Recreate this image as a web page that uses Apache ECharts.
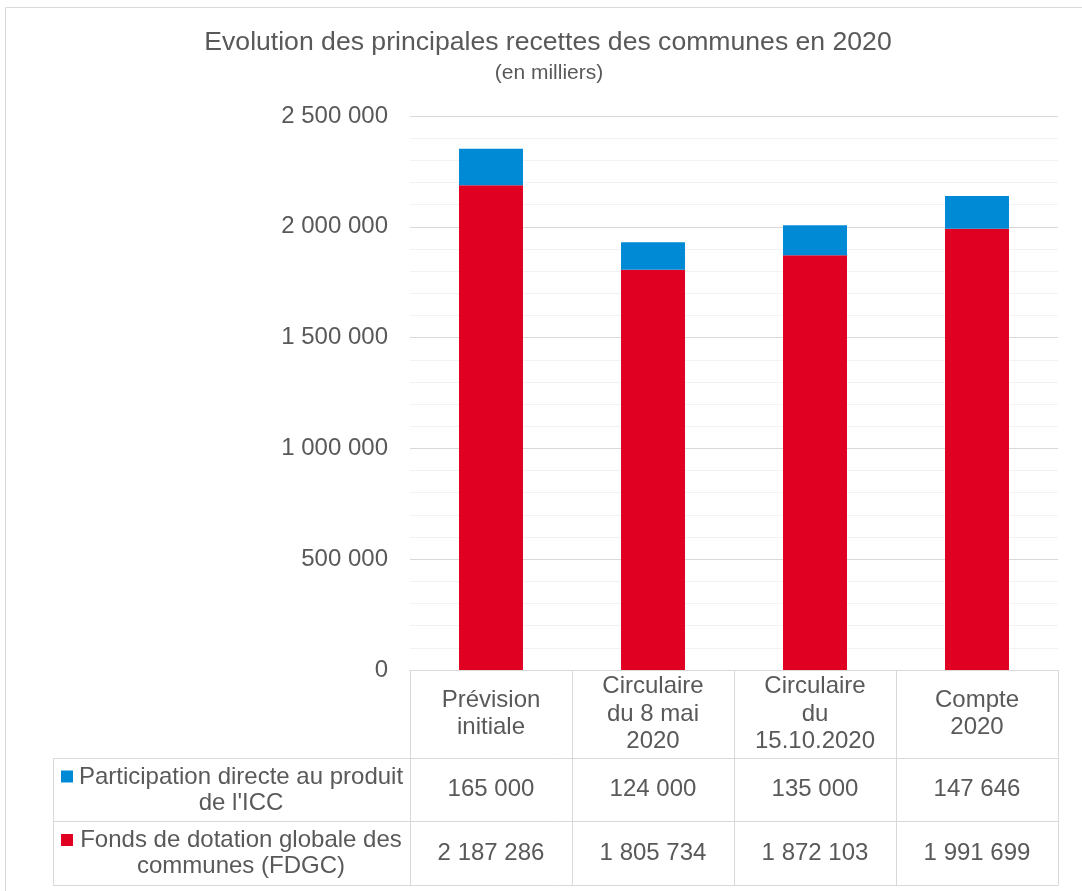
<!DOCTYPE html>
<html>
<head>
<meta charset="utf-8">
<script src="https://cdn.jsdelivr.net/npm/echarts@6/dist/echarts.min.js"></script>
<style>
html,body{margin:0;padding:0;background:#fff;}
#chart{width:1082px;height:891px;}
</style>
</head>
<body>
<div id="chart"></div>
<script>
const categories = ['Prévision\ninitiale', 'Circulaire\ndu 8 mai\n2020', 'Circulaire\ndu\n15.10.2020', 'Compte\n2020'];
const seriesNames = ["Participation directe au produit\nde l'ICC", 'Fonds de dotation globale des\ncommunes (FDGC)'];
const iccValues = [165000, 124000, 135000, 147646];
const fdgcValues = [2187286, 1805734, 1872103, 1991699];
const yMin = 0, yMax = 2500000, yInterval = 500000;
const titleText = 'Evolution des principales recettes des communes en 2020';
const subtitleText = '(en milliers)';

const FONT = "'Liberation Sans', Arial, sans-serif";
const TXT = '#595959';
const LINE = '#d9d9d9';
const BLUE = '#008AD6';
const RED = '#E00022';

function fmt(n) { return String(n).replace(/\B(?=(\d{3})+(?!\d))/g, ' '); }

const chart = echarts.init(document.getElementById('chart'), null, {renderer: 'canvas'});

const gridLeft = 410, gridRight = 1058, gridTop = 116, gridBottom = 670;
const tableLeft = 53, row1Top = 758, row2Top = 821, tableBottom = 885;

chart.setOption({
  animation: false,
  grid: {left: gridLeft, top: gridTop, width: gridRight - gridLeft, height: gridBottom - gridTop},
  xAxis: {
    type: 'category',
    data: categories,
    axisLine: {show: true, lineStyle: {color: LINE, width: 1}},
    axisTick: {show: true, length: tableBottom - gridBottom, lineStyle: {color: LINE, width: 1}},
    axisLabel: {
      interval: 0, color: TXT, fontFamily: FONT, fontSize: 24, lineHeight: 27.5,
      verticalAlign: 'middle', margin: (row1Top - gridBottom) / 2
    }
  },
  yAxis: {
    type: 'value', min: yMin, max: yMax, interval: yInterval,
    axisLine: {show: false}, axisTick: {show: false},
    axisLabel: {color: TXT, fontFamily: FONT, fontSize: 24, margin: 22, formatter: v => fmt(v)},
    splitLine: {show: true, lineStyle: {color: LINE, width: 1}},
    minorTick: {show: false, splitNumber: 5},
    minorSplitLine: {show: true, lineStyle: {color: '#f2f2f2', width: 1}}
  },
  series: [
    {name: seriesNames[1], type: 'bar', stack: 's', data: fdgcValues, barWidth: '39.5%',
     itemStyle: {color: RED}},
    {name: seriesNames[0], type: 'bar', stack: 's', data: iccValues, barWidth: '39.5%',
     itemStyle: {color: BLUE}}
  ]
});

// Build the data table from the arrays
const g = [];
g.push({type: 'rect', shape: {x: 5.5, y: 7.5, width: 1100, height: 900}, style: {fill: 'none', stroke: LINE, lineWidth: 1}, silent: true});
g.push({type: 'text', style: {text: titleText, x: 548, y: 43, textAlign: 'center', textVerticalAlign: 'middle', font: '26.6px ' + FONT, fill: TXT}});
g.push({type: 'text', style: {text: subtitleText, x: 549, y: 73, textAlign: 'center', textVerticalAlign: 'middle', font: '21px ' + FONT, fill: TXT}});

[row1Top, row2Top, tableBottom].forEach(y => {
  g.push({type: 'line', shape: {x1: tableLeft, y1: y + 0.5, x2: gridRight + 0.5, y2: y + 0.5}, style: {stroke: LINE, lineWidth: 1}});
});
g.push({type: 'line', shape: {x1: tableLeft + 0.5, y1: row1Top, x2: tableLeft + 0.5, y2: tableBottom}, style: {stroke: LINE, lineWidth: 1}});

const rows = [
  {name: seriesNames[0], color: BLUE, values: iccValues, top: row1Top, bottom: row2Top},
  {name: seriesNames[1], color: RED, values: fdgcValues, top: row2Top, bottom: tableBottom}
];
rows.forEach(r => {
  const cy = (r.top + r.bottom) / 2;
  g.push({type: 'rect', shape: {x: 61, y: cy - 13 - 6, width: 12, height: 12}, style: {fill: r.color}});
  g.push({type: 'text', style: {text: r.name, x: 241, y: cy + 0.5, textAlign: 'center', textVerticalAlign: 'middle', font: '24px ' + FONT, lineHeight: 26, fill: TXT}});
  r.values.forEach((v, i) => {
    const px = chart.convertToPixel({xAxisIndex: 0}, i);
    g.push({type: 'text', style: {text: fmt(v), x: px, y: cy, textAlign: 'center', textVerticalAlign: 'middle', font: '24px ' + FONT, fill: TXT}});
  });
});
chart.setOption({graphic: g});
</script>
</body>
</html>
